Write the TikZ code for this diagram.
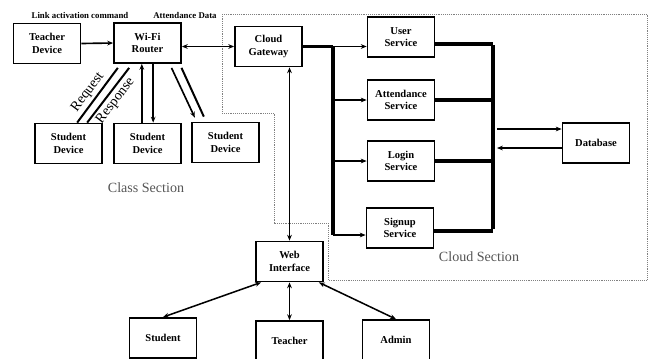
\documentclass[tikz,border=0pt]{standalone}
\usepackage{fontspec}
\setmainfont{Liberation Serif}
\usetikzlibrary{arrows.meta}
\definecolor{secgray}{RGB}{85,85,85}

\begin{document}
\begin{tikzpicture}[
  x=0.03cm, y=-0.03cm,
  box/.style   = {rectangle, draw=black, fill=white, line width=1.5pt, align=center,
                  minimum width=2.01cm, minimum height=1.2cm, inner sep=1pt,
                  font=\fontsize{9}{10.5}\selectfont\bfseries},
  fl/.style    = {-{Stealth[length=5pt,width=4pt]}, line width=1.4pt},
  dfl/.style   = {{Stealth[length=5pt,width=4pt]}-{Stealth[length=5pt,width=4pt]}, line width=1.3pt},
  ln/.style    = {line width=1.7pt},
  link/.style  = {line width=2.6pt},
  bus/.style   = {line width=4.2pt},
  lab/.style   = {font=\fontsize{7.5}{8}\selectfont\bfseries, inner sep=0pt},
  sec/.style   = {font=\fontsize{12}{13}\selectfont, text=secgray},
  rot/.style   = {font=\fontsize{12}{13}\selectfont, inner sep=1pt},
  zone/.style  = {densely dotted, gray, line width=0.6pt}
]
\useasboundingbox (0,0) rectangle (649,358);

% --- Class section ------------------------------------------------------------
\node[lab] (cmd)  at (80,15)  {Link activation command};
\node[lab] (att)  at (185,15) {Attendance Data};

\node[box] (teacherdev) at (47,43.5)  {Teacher\\ Device};
\node[box] (router)     at (147.5,43) {Wi-Fi\\ Router};
\node[box] (stud1)      at (68.5,143.5) {Student\\ Device};
\node[box] (stud2)      at (147.5,143.5) {Student\\ Device};
\node[box] (stud3)      at (225.5,142.5) {Student\\ Device};
\node[sec] (classsec)   at (146,188) {Class Section};

% --- Cloud section ------------------------------------------------------------
\draw[zone] (222,14) -- (647,14) -- (647,280) -- (328,280) -- (328,223)
            -- (274,223) -- (274,113) -- (222,113) -- cycle;

\node[box] (gateway) at (268.5,46.5) {Cloud\\ Gateway};
\node[box] (user)    at (401,37)   {User\\ Service};
\node[box] (attend)  at (401,100)  {Attendance\\ Service};
\node[box] (login)   at (401,161)  {Login\\ Service};
\node[box] (signup)  at (400,228)  {Signup\\ Service};
\node[box] (db)      at (596,143)  {Database};
\node[sec] (cloudsec) at (479,257) {Cloud Section};

\coordinate (lbus)    at (333,46.5);
\coordinate (lbusend) at (333,235);
\coordinate (rtop)    at (493,44);
\coordinate (rbot)    at (493,231);
\coordinate (dbin)    at (497,129);
\coordinate (dbout)   at (497,148);

% --- Web side -----------------------------------------------------------------
\node[box] (web)     at (289.5,261.5) {Web\\ Interface};
\node[box] (student) at (163,338)   {Student};
\node[box] (teacher) at (289.5,341) {Teacher};
\node[box] (admin)   at (396,340)   {Admin};

% --- Class flows --------------------------------------------------------------
\draw[fl] (teacherdev.east) -- (router.west);
\draw[ln] ([shift={(0.26cm,0)}]stud1.north) -- node[rot, sloped, above=1pt, pos=0.45]{Request}
          ([shift={(-0.89cm,-0.12cm)}]router.south);
\draw[ln] ([shift={(0.56cm,0)}]stud1.north) -- node[rot, sloped, below=1pt, pos=0.5]{Response}
          ([shift={(-0.55cm,-0.12cm)}]router.south);
\draw[fl] ([xshift=-0.17cm]stud2.north) -- ([xshift=-0.17cm]router.south);
\draw[fl] ([xshift=0.17cm]router.south) -- ([xshift=0.17cm]stud2.north);
\draw[fl] ([shift={(0.72cm,-0.12cm)}]router.south) -- ([shift={(-0.92cm,0.12cm)}]stud3.north);
\draw[ln] ([shift={(1.02cm,-0.12cm)}]router.south) -- ([shift={(-0.65cm,0.15cm)}]stud3.north);

\draw[dfl] (router.east |- gateway.west) -- (gateway.west);

% --- Cloud flows --------------------------------------------------------------
\draw[link] (gateway.east) -- (lbus);
\draw[fl] (lbus) -- (lbus -| user.west);
\draw[link] (lbus) -- (lbusend);
\draw[fl] (lbus |- attend.west) -- (attend.west);
\draw[fl] (lbus |- login.west) -- (login.west);
\draw[fl] (lbusend) -- (lbusend -| signup.west);

\draw[link] (user.east |- rtop) -- (rtop);
\draw[link] (attend.east) -- (attend.east -| rtop);
\draw[link] (login.east) -- (login.east -| rtop);
\draw[bus]  (signup.east |- rbot) -- (rbot);
\draw[bus]  ([yshift=-1pt]rtop) -- ([yshift=2pt]rbot);

\draw[fl] (dbin) -- (dbin -| db.west);
\draw[fl] (dbout -| db.west) -- (dbout);

% --- Web flows ----------------------------------------------------------------
\draw[dfl] (gateway.south -| web.north) -- (web.north);
\draw[dfl] ([xshift=0.18cm]web.south west) -- (student.north);
\draw[dfl] (web.south) -- (teacher.north);
\draw[dfl] ([xshift=-0.15cm]web.south east) -- (admin.north);

\end{tikzpicture}
\end{document}
